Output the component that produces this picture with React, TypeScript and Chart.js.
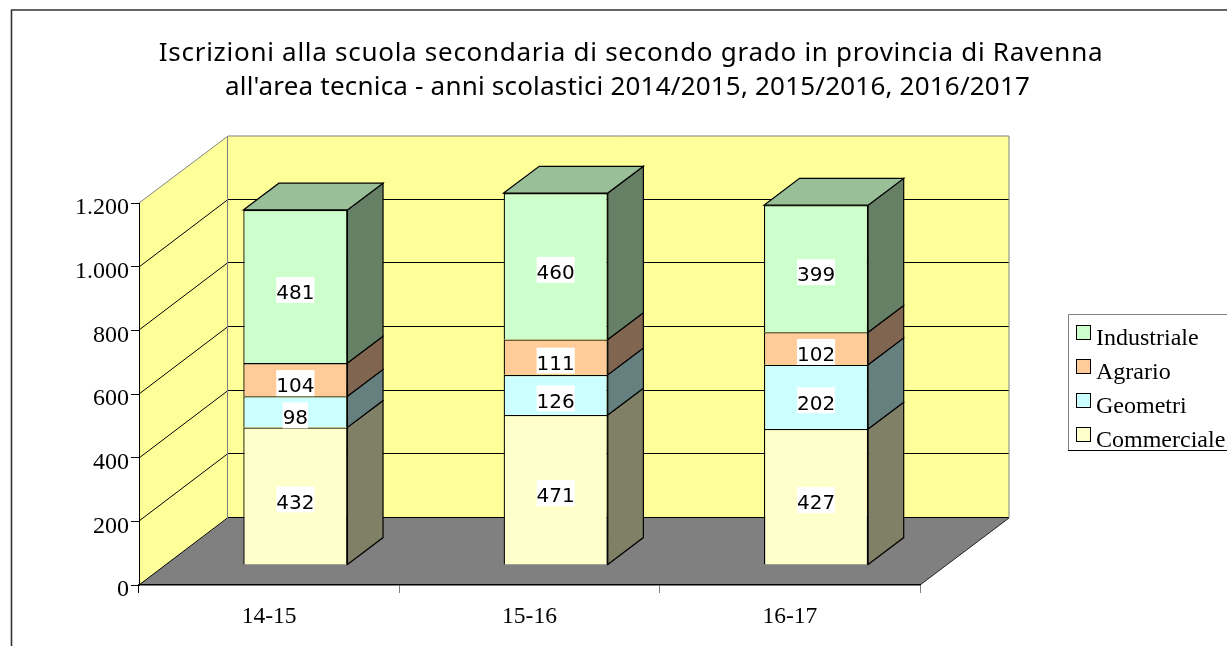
import React, { useEffect, useRef } from "react";
import { Chart, registerables } from "chart.js";

Chart.register(...registerables);

const categories = ["14-15", "15-16", "16-17"];
const commerciale = [432, 471, 427];
const geometri = [98, 126, 202];
const agrario = [104, 111, 102];
const industriale = [481, 460, 399];
const yTicks = [0, 200, 400, 600, 800, 1000, 1200];
const titleLines = [
  "Iscrizioni alla scuola secondaria di secondo grado in provincia di Ravenna",
  "all'area tecnica - anni scolastici 2014/2015, 2015/2016, 2016/2017",
];
const titleCenters = [631, 627.5];
const titleBaselines = [61, 94.5];
const titleSpacing = ["0.72px", "0.2px"];

const WALL_DX = 89;
const WALL_DY = 67;
const BAR_SHIFT_X = 26.2;
const BAR_SHIFT_Y = -20.1;
const BAR_DEPTH = 0.4;
const SERIF = "'Liberation Serif'";

const sideColors = ["#808066", "#668080", "#806650", "#668066"];
const TOP_COLOR = "#99BF99";

const scene = {
  id: "scene",
  beforeDraw(chart: any) {
    const { ctx, scales } = chart;
    const x = scales.x;
    const y = scales.y;
    const L = x.left;
    const R = x.right;
    const B = y.getPixelForValue(0);
    const T = y.getPixelForValue(1200);
    ctx.save();
    // frame
    ctx.strokeStyle = "#333";
    ctx.lineWidth = 1.6;
    ctx.beginPath();
    ctx.moveTo(11.5, 646);
    ctx.lineTo(11.5, 10);
    ctx.lineTo(1227, 10);
    ctx.stroke();
    // title
    ctx.fillStyle = "#000";
    ctx.font = "26px 'Noto Sans'";
    ctx.textAlign = "center";
    ctx.textBaseline = "alphabetic";
    titleLines.forEach((line, i) => {
      ctx.letterSpacing = titleSpacing[i];
      ctx.fillText(line, titleCenters[i], titleBaselines[i]);
    });
    ctx.letterSpacing = "0px";
    // walls
    ctx.fillStyle = "#FFFF99";
    ctx.fillRect(L + WALL_DX, T - WALL_DY, R - L, B - T);
    ctx.beginPath();
    ctx.moveTo(L, B);
    ctx.lineTo(L, T);
    ctx.lineTo(L + WALL_DX, T - WALL_DY);
    ctx.lineTo(L + WALL_DX, B - WALL_DY);
    ctx.closePath();
    ctx.fill();
    // floor
    ctx.fillStyle = "#808080";
    ctx.beginPath();
    ctx.moveTo(L, B);
    ctx.lineTo(R, B);
    ctx.lineTo(R + WALL_DX, B - WALL_DY);
    ctx.lineTo(L + WALL_DX, B - WALL_DY);
    ctx.closePath();
    ctx.fill();
    // grid
    ctx.lineWidth = 1;
    ctx.strokeStyle = "#000";
    ctx.beginPath();
    for (const v of yTicks.slice(0, -1)) {
      const py = Math.round(y.getPixelForValue(v)) - 0.5;
      ctx.moveTo(L, py + 0.5);
      ctx.lineTo(L + WALL_DX, py - WALL_DY);
      ctx.lineTo(R + WALL_DX, py - WALL_DY);
    }
    ctx.stroke();
    // outlines
    ctx.strokeStyle = "#808080";
    ctx.beginPath();
    ctx.moveTo(L, T);
    ctx.lineTo(L + WALL_DX, T - WALL_DY);
    ctx.lineTo(R + WALL_DX, T - WALL_DY);
    ctx.lineTo(R + WALL_DX, B - WALL_DY);
    ctx.moveTo(L + WALL_DX - 0.5, T - WALL_DY);
    ctx.lineTo(L + WALL_DX - 0.5, B - WALL_DY);
    ctx.stroke();
    ctx.strokeStyle = "#222";
    ctx.beginPath();
    ctx.moveTo(R, B);
    ctx.lineTo(R + WALL_DX, B - WALL_DY);
    ctx.stroke();
    ctx.restore();
  },
  beforeDatasetsDraw(chart: any) {
    const { ctx } = chart;
    const dx = WALL_DX * BAR_DEPTH;
    const dy = -WALL_DY * BAR_DEPTH;
    ctx.save();
    ctx.translate(BAR_SHIFT_X, BAR_SHIFT_Y);
    ctx.lineWidth = 1.2;
    ctx.strokeStyle = "#000";
    chart.data.datasets.forEach((_: any, di: number) => {
      chart.getDatasetMeta(di).data.forEach((el: any) => {
        const p = el.getProps(["x", "y", "base", "width"]);
        const r = p.x + p.width / 2;
        ctx.fillStyle = sideColors[di];
        ctx.beginPath();
        ctx.moveTo(r, p.base);
        ctx.lineTo(r + dx, p.base + dy);
        ctx.lineTo(r + dx, p.y + dy);
        ctx.lineTo(r, p.y);
        ctx.closePath();
        ctx.fill();
        ctx.stroke();
        if (di === chart.data.datasets.length - 1) {
          const l = p.x - p.width / 2;
          ctx.fillStyle = TOP_COLOR;
          ctx.beginPath();
          ctx.moveTo(l, p.y);
          ctx.lineTo(l + dx, p.y + dy);
          ctx.lineTo(r + dx, p.y + dy);
          ctx.lineTo(r, p.y);
          ctx.closePath();
          ctx.fill();
          ctx.stroke();
        }
      });
    });
    ctx.restore();
  },
  beforeDatasetDraw(chart: any) {
    chart.ctx.save();
    chart.ctx.translate(BAR_SHIFT_X, BAR_SHIFT_Y);
  },
  afterDatasetDraw(chart: any) {
    chart.ctx.restore();
  },
  afterDatasetsDraw(chart: any) {
    const { ctx } = chart;
    ctx.save();
    ctx.font = "20px 'DejaVu Sans'";
    ctx.textAlign = "center";
    ctx.textBaseline = "middle";
    chart.data.datasets.forEach((ds: any, di: number) => {
      chart.getDatasetMeta(di).data.forEach((el: any, i: number) => {
        const p = el.getProps(["x", "y", "base"]);
        const cx = p.x + BAR_SHIFT_X;
        const cy = (p.y + p.base) / 2 + BAR_SHIFT_Y + 7.5;
        const text = String(ds.data[i]);
        const w = ctx.measureText(text).width;
        ctx.fillStyle = "#fff";
        ctx.fillRect(cx - w / 2, cy - 17, w, 26);
        ctx.fillStyle = "#000";
        ctx.fillText(text, cx, cy);
      });
    });
    ctx.restore();
    // legend
    ctx.save();
    ctx.lineWidth = 1;
    ctx.strokeStyle = "#808080";
    ctx.beginPath();
    ctx.moveTo(1068.5, 451);
    ctx.lineTo(1068.5, 314.5);
    ctx.lineTo(1227, 314.5);
    ctx.stroke();
    ctx.strokeStyle = "#000";
    ctx.beginPath();
    ctx.moveTo(1068, 450.5);
    ctx.lineTo(1227, 450.5);
    ctx.stroke();
    ctx.font = `24px ${SERIF}`;
    ctx.textAlign = "left";
    ctx.textBaseline = "alphabetic";
    const order = [...chart.data.datasets].reverse();
    order.forEach((ds: any, i: number) => {
      const top = 325.5 + i * 34;
      ctx.fillStyle = ds.backgroundColor;
      ctx.strokeStyle = "#000";
      ctx.fillRect(1076.5, top, 14, 14);
      ctx.strokeRect(1076.5, top, 14, 14);
      ctx.fillStyle = "#000";
      ctx.fillText(ds.label, 1096, top + 19.5);
    });
    ctx.restore();
  },
};

export default function App() {
  const ref = useRef<HTMLCanvasElement>(null);
  useEffect(() => {
    const chart = new Chart(ref.current as HTMLCanvasElement, {
      type: "bar",
      data: {
        labels: categories,
        datasets: [
          { label: "Commerciale", data: commerciale, backgroundColor: "#FFFFCC" },
          { label: "Geometri", data: geometri, backgroundColor: "#CCFFFF" },
          { label: "Agrario", data: agrario, backgroundColor: "#FFCC99" },
          { label: "Industriale", data: industriale, backgroundColor: "#CCFFCC" },
        ].map((d) => ({
          ...d,
          borderColor: "#000",
          borderWidth: 1.3,
          barPercentage: 0.4,
          categoryPercentage: 1,
          clip: false,
        })),
      } as any,
      options: {
        responsive: false,
        animation: false,
        layout: { padding: { left: 39, right: 307, top: 203, bottom: 0 } },
        plugins: {
          legend: { display: false },
          tooltip: { enabled: false },
          title: { display: false },
        },
        scales: {
          x: {
            stacked: true,
            afterFit: (s: any) => {
              s.height = 61;
            },
            border: { color: "#000", width: 1.5 },
            grid: {
              offset: true,
              drawOnChartArea: false,
              tickLength: 8,
              tickColor: (c: any) => (c.index === 0 ? "#000" : "#808080"),
            },
            ticks: { color: "#000", font: { family: SERIF, size: 23.5 }, padding: 10, maxRotation: 0 },
          },
          y: {
            stacked: true,
            min: 0,
            max: 1200,
            afterFit: (s: any) => {
              s.width = 100;
            },
            afterBuildTicks: (s: any) => {
              s.ticks = yTicks.map((value) => ({ value }));
            },
            border: { color: "#000", width: 1 },
            grid: { drawOnChartArea: false, tickLength: 8, color: "#000" },
            ticks: {
              color: "#000",
              font: { family: SERIF, size: 24 },
              padding: 2,
              labelOffset: 5,
              callback: (v: any) => Number(v).toLocaleString("de-DE"),
            },
          },
        },
      },
      plugins: [scene],
    } as any);
    return () => chart.destroy();
  }, []);
  return (
    <div style={{ position: "absolute", left: 0, top: 0, width: 1227, height: 646, background: "#fff" }}>
      <canvas ref={ref} width={1227} height={646} style={{ display: "block" }} />
    </div>
  );
}
